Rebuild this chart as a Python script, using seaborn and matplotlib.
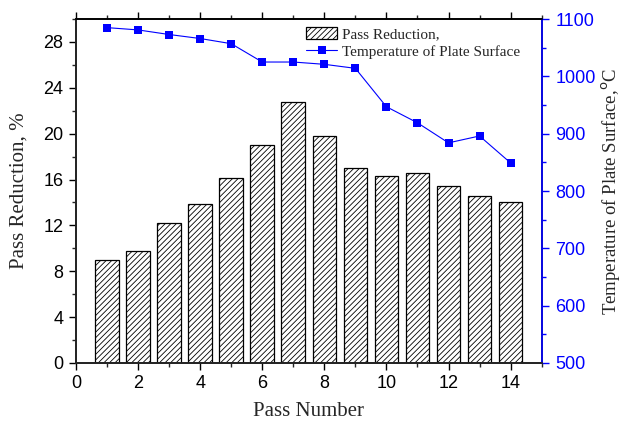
import numpy as np
import pandas as pd
import matplotlib
matplotlib.use('Agg')
import matplotlib.pyplot as plt
import seaborn as sns
from matplotlib.ticker import MultipleLocator
from matplotlib.patches import Patch
from matplotlib.lines import Line2D

# data
pass_number = [1, 2, 3, 4, 5, 6, 7, 8, 9, 10, 11, 12, 13, 14]
pass_reduction = [9.0, 9.8, 12.2, 13.9, 16.1, 19.0, 22.8, 19.8, 17.0, 16.3, 16.6, 15.4, 14.6, 14.0]
plate_temp = [1085, 1081, 1073, 1066, 1057, 1025, 1025, 1021, 1014, 947, 919, 884, 896, 849]

df = pd.DataFrame({'pass': pass_number, 'reduction': pass_reduction, 'temp': plate_temp})

sns.set_theme(style='ticks')
plt.rcParams['font.family'] = ['Liberation Sans', 'DejaVu Sans']
plt.rcParams['hatch.linewidth'] = 0.6

blue = '#0000ff'
serif = ['Liberation Serif', 'DejaVu Serif']

fig = plt.figure(figsize=(6.25, 4.21), dpi=100)
ax = fig.add_axes([0.1216, 0.1378, 0.745, 0.817])

sns.barplot(data=df, x='pass', y='reduction', native_scale=True, width=0.76,
            color='white', edgecolor='black', linewidth=0.9, ax=ax, zorder=2)
for p in ax.patches:
    p.set_hatch('//////')
    p.set_facecolor('white')

ax.set_xlim(0, 15)
ax.set_ylim(0, 30)
ax.xaxis.set_major_locator(MultipleLocator(2))
ax.xaxis.set_minor_locator(MultipleLocator(1))
ax.yaxis.set_major_locator(MultipleLocator(4))
ax.yaxis.set_minor_locator(MultipleLocator(2))
ax.tick_params(axis='both', which='major', labelsize=13, length=5, width=1, color='black', labelcolor='black', pad=4)
ax.tick_params(axis='both', which='minor', length=3, width=1)
ax.tick_params(axis='x', top=True, which='both')
for s in ['left', 'bottom', 'top']:
    ax.spines[s].set_linewidth(1.2)
    ax.spines[s].set_color('black')
ax.set_xlabel('Pass Number', family=serif, fontsize=15)
ax.set_ylabel('Pass Reduction, %', family=serif, fontsize=15)
ax.xaxis.set_label_coords(0.5, -0.113)
ax.yaxis.set_label_coords(-0.102, 0.5)

ax2 = ax.twinx()
sns.lineplot(data=df, x='pass', y='temp', color=blue, marker='s', markersize=5.5,
             markeredgewidth=0, linewidth=0.8, ax=ax2, zorder=3)
ax2.set_ylim(500, 1100)
ax2.yaxis.set_major_locator(MultipleLocator(100))
ax2.yaxis.set_minor_locator(MultipleLocator(50))
ax2.tick_params(axis='y', which='major', labelsize=13, length=5, width=1, color=blue, labelcolor=blue, pad=5)
ax2.tick_params(axis='y', which='minor', length=3, width=1, color=blue)
ax2.spines['right'].set_color(blue)
ax2.spines['right'].set_linewidth(1.2)
ax2.spines['top'].set_linewidth(1.2)
ax2.spines['top'].set_color('black')
ax2.set_xlabel('')
ax2.set_ylabel('Temperature of Plate Surface,$^{\\mathrm{o}}$C', family=serif, fontsize=13.5)
ax2.yaxis.set_label_coords(1.125, 0.5)

handles = [Patch(facecolor='white', edgecolor='black', hatch='//////', linewidth=0.9),
           Line2D([], [], color=blue, marker='s', markersize=5.5, markeredgewidth=0, linewidth=0.8)]
ax2.legend(handles, ['Pass Reduction,', 'Temperature of Plate Surface'], loc='upper left',
           bbox_to_anchor=(0.495, 0.978), frameon=False, prop={'family': serif, 'size': 11},
           handlelength=2.0, handleheight=0.9, handletextpad=0.3, labelspacing=0.2,
           borderaxespad=0, borderpad=0)

fig.savefig('out.png', dpi=100)
